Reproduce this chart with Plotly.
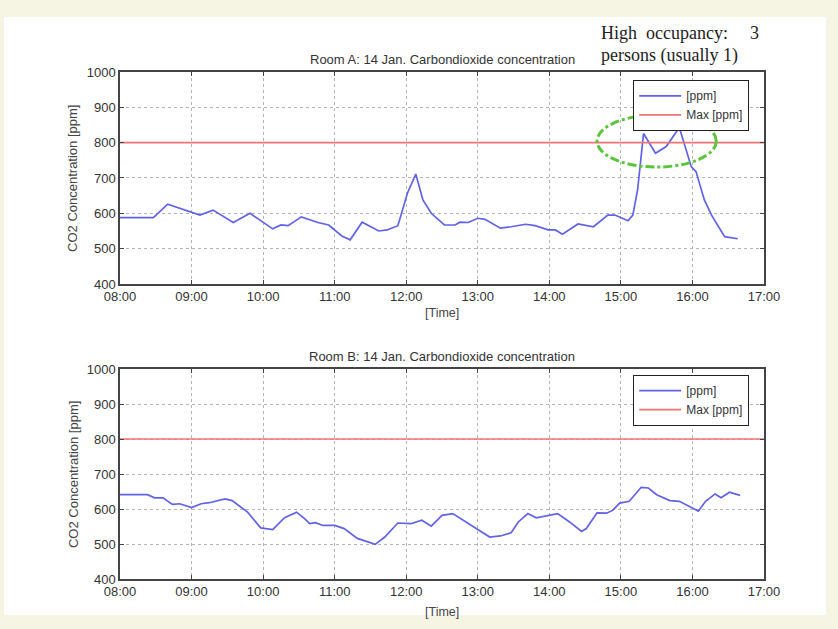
import plotly.graph_objects as go
import pandas as pd

day = "2011-01-14"

# Room A (top panel)
room_a_time = ["08:00", "08:28", "08:40", "08:54", "09:07", "09:18", "09:35", "09:49",
               "10:08", "10:15", "10:21", "10:32", "10:46", "10:55", "11:01", "11:06",
               "11:13", "11:23", "11:37", "11:44", "11:53", "12:01", "12:08", "12:14",
               "12:21", "12:32", "12:41", "12:45", "12:52", "13:00", "13:06", "13:19",
               "13:28", "13:40", "13:48", "13:59", "14:05", "14:11", "14:24", "14:37",
               "14:49", "14:55", "15:06", "15:10", "15:14", "15:19", "15:29", "15:38",
               "15:49", "15:53", "15:59", "16:03", "16:10", "16:16", "16:27", "16:38"]
room_a_ppm = [588, 588, 626, 611, 595, 609, 574, 600,
              556, 567, 565, 590, 574, 567, 550, 536,
              525, 575, 550, 553, 565, 657, 711, 638,
              600, 567, 567, 575, 574, 586, 583, 558,
              562, 569, 565, 553, 553, 541, 570, 562,
              595, 595, 579, 595, 666, 826, 770, 789,
              843, 798, 732, 718, 638, 595, 534, 528]

# Room B (bottom panel)
room_b_time = ["08:00", "08:23", "08:29", "08:36", "08:44", "08:50", "09:00", "09:08",
               "09:15", "09:28", "09:34", "09:41", "09:47", "09:58", "10:08", "10:18",
               "10:28", "10:35", "10:39", "10:44", "10:50", "11:00", "11:08", "11:19",
               "11:34", "11:42", "11:53", "12:04", "12:13", "12:21", "12:30", "12:39",
               "12:56", "13:10", "13:19", "13:28", "13:34", "13:42", "13:49", "13:59",
               "14:07", "14:17", "14:27", "14:31", "14:40", "14:48", "14:53", "14:59",
               "15:07", "15:17", "15:23", "15:30", "15:41", "15:49", "16:02", "16:05",
               "16:11", "16:19", "16:24", "16:31", "16:40"]
room_b_ppm = [641, 641, 632, 632, 613, 615, 604, 615,
              618, 629, 624, 607, 591, 546, 541, 575,
              591, 572, 558, 561, 553, 553, 544, 516,
              499, 520, 560, 558, 568, 551, 582, 587,
              549, 520, 523, 532, 563, 587, 575, 582,
              587, 563, 536, 544, 589, 588, 596, 617,
              622, 662, 660, 641, 624, 622, 598, 594,
              622, 643, 632, 648, 639]

max_ppm = 800
max_time = ["08:00", "17:00"]

x_tick_labels = ["08:00", "09:00", "10:00", "11:00", "12:00", "13:00", "14:00",
                 "15:00", "16:00", "17:00"]
y_ticks = [400, 500, 600, 700, 800, 900, 1000]

# highlighted high-occupancy window (Room A)
highlight_time = ["14:40", "16:20"]
highlight_ppm = [731, 878]

titles = ["Room A: 14 Jan. Carbondioxide concentration",
          "Room B: 14 Jan. Carbondioxide concentration"]


def ts(t):
    return pd.to_datetime(day + " " + t)


def tss(lst):
    return [ts(t) for t in lst]


blue = "#6262e6"
red = "#ee7474"
font = "Liberation Sans, Arial, sans-serif"

fig = go.Figure()
for i, (tt, pp, lg) in enumerate([(room_a_time, room_a_ppm, "legend"),
                                   (room_b_time, room_b_ppm, "legend2")]):
    xa = "x" if i == 0 else "x2"
    ya = "y" if i == 0 else "y2"
    fig.add_trace(go.Scatter(x=tss(tt), y=pp, mode="lines", name="[ppm]",
                             line=dict(color=blue, width=1.7),
                             xaxis=xa, yaxis=ya, legend=lg))
    fig.add_trace(go.Scatter(x=tss(max_time), y=[max_ppm, max_ppm], mode="lines",
                             name="Max [ppm]", line=dict(color=red, width=1.7),
                             xaxis=xa, yaxis=ya, legend=lg))

xrange = [ts(x_tick_labels[0]), ts(x_tick_labels[-1])]
axis_common = dict(showline=True, linecolor="#444", linewidth=1.5, mirror="ticks",
                   ticks="inside", ticklen=4, tickcolor="#444", showgrid=True,
                   gridcolor="#b4b4b4", griddash="dot", gridwidth=1, zeroline=False,
                   tickfont=dict(family=font, size=13, color="#333"))

xcommon = dict(axis_common, range=xrange, tickvals=tss(x_tick_labels),
               ticktext=x_tick_labels)
ycommon = dict(axis_common, range=[y_ticks[0], y_ticks[-1]], tickvals=y_ticks)

legend_common = dict(xanchor="left", yanchor="top", bgcolor="white",
                     bordercolor="#222", borderwidth=1.2,
                     font=dict(family=font, size=12, color="#333"),
                     tracegroupgap=0, itemwidth=42)

fig.update_layout(
    width=838, height=629,
    margin=dict(l=120, r=74, t=72, b=50),
    paper_bgcolor="#f6f5e3",
    plot_bgcolor="white",
    showlegend=True,
    xaxis=dict(xcommon, domain=[0, 1], anchor="y"),
    yaxis=dict(ycommon, domain=[0.5819, 1], anchor="x"),
    xaxis2=dict(xcommon, domain=[0, 1], anchor="y2"),
    yaxis2=dict(ycommon, domain=[0, 0.4142], anchor="x2"),
    legend=dict(legend_common, x=0.7966, y=0.984),
    legend2=dict(legend_common, x=0.7966, y=0.4024),
)

# white page area inside the beige border
fig.add_shape(type="rect", xref="paper", yref="paper", layer="below",
              x0=-0.180, x1=1.0963, y0=-0.071, y1=1.1085,
              fillcolor="white", line=dict(width=0))

# green dash-dot ellipse around the high-occupancy peak
fig.add_shape(type="circle", xref="x", yref="y",
              x0=ts(highlight_time[0]), x1=ts(highlight_time[1]),
              y0=highlight_ppm[0], y1=highlight_ppm[1],
              line=dict(color="#5cc43c", width=3, dash="dashdot"))

ann = []
# subplot titles
ann.append(dict(text=titles[0], x=0.5, y=1.0, xref="paper", yref="paper",
                xanchor="center", yanchor="bottom", yshift=3, showarrow=False,
                font=dict(family=font, size=13, color="#333")))
ann.append(dict(text=titles[1], x=0.5, y=0.4142, xref="paper", yref="paper",
                xanchor="center", yanchor="bottom", yshift=3, showarrow=False,
                font=dict(family=font, size=13, color="#333")))
# axis titles
for yc in [0.791, 0.207]:
    ann.append(dict(text="CO2 Concentration [ppm]", x=-0.073, y=yc, xref="paper",
                    yref="paper", textangle=-90, showarrow=False,
                    xanchor="center", yanchor="middle",
                    font=dict(family=font, size=13, color="#444")))
for yc in [0.5247, -0.065]:
    ann.append(dict(text="[Time]", x=0.5, y=yc, xref="paper", yref="paper",
                    showarrow=False, xanchor="center", yanchor="middle",
                    font=dict(family=font, size=12.5, color="#444")))

# occupancy note (serif, justified)
serif = "Liberation Serif, Times New Roman, serif"
note_font = dict(family=serif, size=18, color="#222")
note_y1 = (579 - 33) / 507
note_y2 = (579 - 55) / 507
ann.append(dict(text="High", x=(599 - 120) / 644, y=note_y1, xref="paper", yref="paper",
                xanchor="left", yanchor="middle", showarrow=False, font=note_font))
ann.append(dict(text="occupancy:", x=(644 - 120) / 644, y=note_y1, xref="paper",
                yref="paper", xanchor="left", yanchor="middle", showarrow=False,
                font=note_font))
ann.append(dict(text="3", x=(761 - 120) / 644, y=note_y1, xref="paper", yref="paper",
                xanchor="right", yanchor="middle", showarrow=False, font=note_font))
ann.append(dict(text="persons (usually 1)", x=(599 - 120) / 644, y=note_y2,
                xref="paper", yref="paper", xanchor="left", yanchor="middle",
                showarrow=False, font=note_font))

fig.update_layout(annotations=ann)

fig.write_html("out.html")
